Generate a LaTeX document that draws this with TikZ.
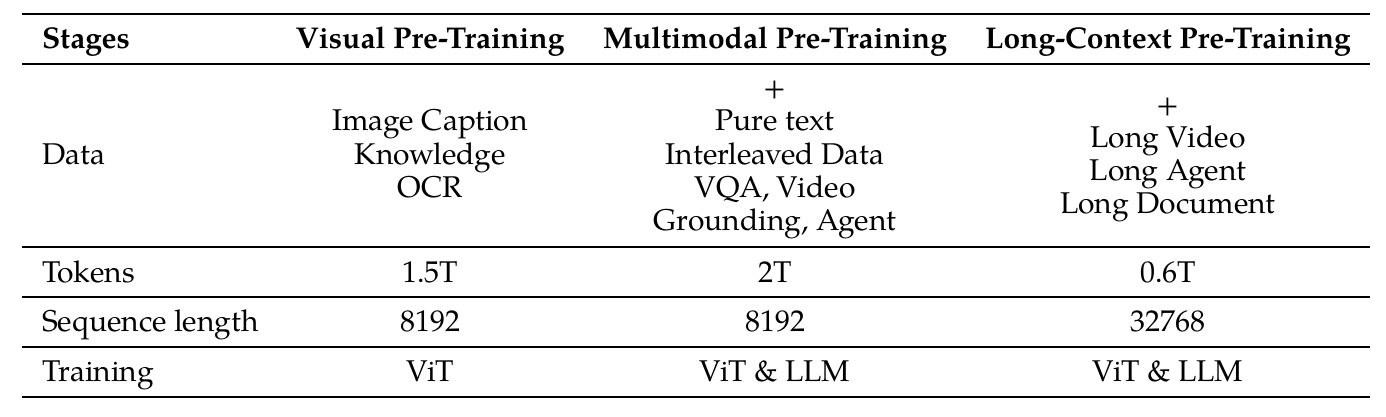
\documentclass[tikz,border=0pt]{standalone}
\usepackage{fontspec}
\setmainfont{TeX Gyre Pagella}
\begin{document}
\begin{tikzpicture}[x=1pt,y=-1pt,
  txt/.style={inner sep=0pt,anchor=base,font=\fontsize{30}{33}\selectfont},
  lft/.style={txt,anchor=base west},
  hdr/.style={txt,font=\fontsize{30}{33}\selectfont\bfseries},
  hdrl/.style={hdr,anchor=base west},
  heavy/.style={line width=2.2pt},
  light/.style={line width=1.2pt}]
\useasboundingbox (0,0) rectangle (1386,416);
% rules
\coordinate (r0l) at (22,14);  \coordinate (r0r) at (1370,14);
\coordinate (r1l) at (22,64);  \coordinate (r1r) at (1370,64);
\coordinate (r2l) at (22,247); \coordinate (r2r) at (1370,247);
\coordinate (r3l) at (22,297); \coordinate (r3r) at (1370,297);
\coordinate (r4l) at (22,347); \coordinate (r4r) at (1370,347);
\coordinate (r5l) at (22,397); \coordinate (r5r) at (1370,397);
\draw[heavy] (r0l) -- (r0r);
\draw[light] (r1l) -- (r1r);
\draw[light] (r2l) -- (r2r);
\draw[light] (r3l) -- (r3r);
\draw[light] (r4l) -- (r4r);
\draw[heavy] (r5l) -- (r5r);
% header
\node[hdrl] (h1) at (42,48) {Stages};
\node[hdr] (h2) at (430,48) {Visual Pre-Training};
\node[hdr] (h3) at (775,48) {Multimodal Pre-Training};
\node[hdr] (h4) at (1168,48) {Long-Context Pre-Training};
% data row
\node[lft] (d1) at (42,164) {Data};
\node[txt] (d2a) at (430,130) {Image Caption};
\node[txt] (d2b) at (430,164) {Knowledge};
\node[txt] (d2c) at (430,197) {OCR};
\node[txt] (d3a) at (775,97) {+};
\node[txt] (d3b) at (775,130) {Pure text};
\node[txt] (d3c) at (775,164) {Interleaved Data};
\node[txt] (d3d) at (775,197) {VQA, Video};
\node[txt] (d3e) at (775,230) {Grounding, Agent};
\node[txt] (d4a) at (1168,114) {+};
\node[txt] (d4b) at (1168,147) {Long Video};
\node[txt] (d4c) at (1168,180) {Long Agent};
\node[txt] (d4d) at (1168,213) {Long Document};
% tokens
\node[lft] (t1) at (42,282) {Tokens};
\node[txt] (t2) at (430,282) {1.5T};
\node[txt] (t3) at (775,282) {2T};
\node[txt] (t4) at (1168,282) {0.6T};
% sequence length
\node[lft] (s1) at (42,331) {Sequence length};
\node[txt] (s2) at (430,331) {8192};
\node[txt] (s3) at (775,331) {8192};
\node[txt] (s4) at (1168,331) {32768};
% training
\node[lft] (g1) at (42,381) {Training};
\node[txt] (g2) at (430,381) {ViT};
\node[txt] (g3) at (775,381) {ViT \& LLM};
\node[txt] (g4) at (1168,381) {ViT \& LLM};
\end{tikzpicture}
\end{document}
